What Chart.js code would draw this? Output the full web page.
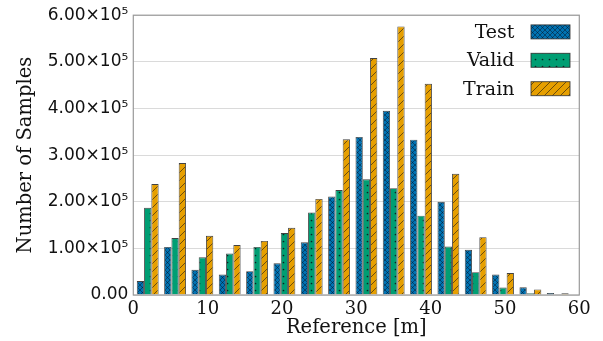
<!DOCTYPE html>
<html>
<head>
<meta charset="utf-8">
<script src="https://cdn.jsdelivr.net/npm/chart.js@4/dist/chart.umd.min.js"></script>
<style>
  html, body { margin: 0; padding: 0; background: #fff; }
  #c { display: block; }
</style>
</head>
<body>
<canvas id="c" width="603" height="341"></canvas>
<script>
// Histogram bin centres (metres) and sample counts per split
const binCenters = [1.94, 5.62, 9.29, 12.97, 16.65, 20.33, 24.00, 27.68, 31.36, 35.03, 38.71, 42.39, 46.06, 49.74, 53.42, 57.10];
const testCounts  = [30000, 103000, 54000, 44000, 51000, 68000, 113000, 211000, 339000, 395000, 333000, 200000, 97000, 44000, 16500, 4500];
const validCounts = [187000, 122000, 81000, 89000, 103000, 133000, 177000, 225000, 248000, 229000, 170000, 104000, 49000, 16000, 4000, 800];
const trainCounts = [238000, 283000, 127000, 107000, 116000, 144000, 206000, 334000, 508000, 576000, 453000, 260000, 124000, 47000, 12000, 3500];
const seriesNames = ['Test', 'Valid', 'Train'];
const xTicks = [0, 10, 20, 30, 40, 50, 60];
const yTicks = [0, 100000, 200000, 300000, 400000, 500000, 600000];

const SERIF = "'DejaVu Serif', 'Liberation Serif', serif";
const SANS = "'DejaVu Sans', 'Liberation Sans', sans-serif";
const INK = '#111';
const EDGE = 'rgba(45,45,45,0.9)';

// Hatched fills built as repeating canvas patterns
function makePattern(size, base, lineAlpha, draw) {
  const t = document.createElement('canvas');
  t.width = size; t.height = size;
  const g = t.getContext('2d');
  g.fillStyle = base;
  g.fillRect(0, 0, size, size);
  g.strokeStyle = 'rgba(10,10,20,' + lineAlpha + ')';
  g.fillStyle = 'rgba(10,10,20,0.85)';
  g.lineWidth = 0.8;
  draw(g, size);
  return document.getElementById('c').getContext('2d').createPattern(t, 'repeat');
}
function diag(g, s, dir) {
  g.beginPath();
  for (let k = -1; k <= 1; k++) {
    if (dir > 0) { g.moveTo(k * s, s); g.lineTo(k * s + s, 0); }
    else { g.moveTo(k * s, 0); g.lineTo(k * s + s, s); }
  }
  g.stroke();
}
const crossFill = makePattern(5, '#0072B2', 0.55, (g, s) => { diag(g, s, 1); diag(g, s, -1); });
const dotFill = makePattern(7, '#009E73', 0.7, (g, s) => {
  g.beginPath(); g.arc(3.5, 3.5, 0.85, 0, Math.PI * 2); g.fill();
});
const slashFill = makePattern(8, '#E69F00', 0.7, (g, s) => { diag(g, s, 1); });
const fills = [crossFill, dotFill, slashFill];

function toPoints(vals) { return binCenters.map((x, i) => ({ x: x, y: vals[i] })); }

const datasets = [testCounts, validCounts, trainCounts].map((vals, i) => ({
  label: seriesNames[i],
  data: toPoints(vals),
  backgroundColor: fills[i],
  borderColor: EDGE,
  borderWidth: 0.9,
  barPercentage: 1.0,
  categoryPercentage: 0.8
}));

// Frame around the plotting area
const framePlugin = {
  id: 'frame',
  afterDatasetsDraw(chart) {
    const a = chart.chartArea, g = chart.ctx;
    g.save();
    g.strokeStyle = '#9a9a9a';
    g.lineWidth = 1.2;
    g.strokeRect(a.left, a.top, a.right - a.left, a.bottom - a.top);
    g.restore();
  }
};

// Legend in the upper-right corner: label text, then the swatch
const legendPlugin = {
  id: 'cornerLegend',
  afterDraw(chart) {
    const a = chart.chartArea, g = chart.ctx;
    const boxW = 39, boxH = 14, rowGap = 28.4;
    const boxRight = a.right - 9.3;
    const firstCenter = a.top + 16.7;
    g.save();
    g.font = '19px ' + SERIF;
    g.textAlign = 'right';
    g.textBaseline = 'middle';
    seriesNames.forEach((name, i) => {
      const cy = firstCenter + i * rowGap;
      g.fillStyle = fills[i];
      g.fillRect(boxRight - boxW, cy - boxH / 2, boxW, boxH);
      g.strokeStyle = EDGE;
      g.lineWidth = 0.9;
      g.strokeRect(boxRight - boxW, cy - boxH / 2, boxW, boxH);
      g.fillStyle = INK;
      g.fillText(name, boxRight - boxW - 16.5, cy + 1);
    });
    g.restore();
  }
};

new Chart(document.getElementById('c'), {
  type: 'bar',
  data: { datasets: datasets },
  options: {
    responsive: false,
    animation: false,
    devicePixelRatio: 1,
    layout: { padding: { top: 15, right: 23.7, left: 0, bottom: 0 } },
    plugins: { legend: { display: false }, tooltip: { enabled: false } },
    scales: {
      x: {
        type: 'linear',
        offset: false,
        min: 0, max: 60,
        afterBuildTicks(s) { s.ticks = xTicks.map(v => ({ value: v })); },
        ticks: { font: { family: SERIF, size: 18 }, color: INK, padding: 4, maxRotation: 0 },
        grid: { display: false, drawTicks: false, offset: false },
        border: { display: false },
        title: { display: true, text: 'Reference [m]', color: INK, font: { family: SERIF, size: 19.5 }, padding: { top: 0, bottom: 1 } },
        afterFit(s) { s.height = 46; }
      },
      y: {
        min: 0, max: 600000,
        afterBuildTicks(s) { s.ticks = yTicks.map(v => ({ value: v })); },
        ticks: {
          font: { family: SANS, size: 17 }, color: INK, padding: 5,
          callback: v => v === 0 ? '0.00' : (v / 100000).toFixed(2) + '×10⁵'
        },
        grid: { color: '#dadada', lineWidth: 1, drawTicks: false },
        border: { display: false },
        title: { display: true, text: 'Number of Samples', color: INK, font: { family: SERIF, size: 19.5 }, padding: { top: 14, bottom: 0 } },
        afterFit(s) { s.width = 133.3; }
      }
    }
  },
  plugins: [framePlugin, legendPlugin]
});
</script>
</body>
</html>
